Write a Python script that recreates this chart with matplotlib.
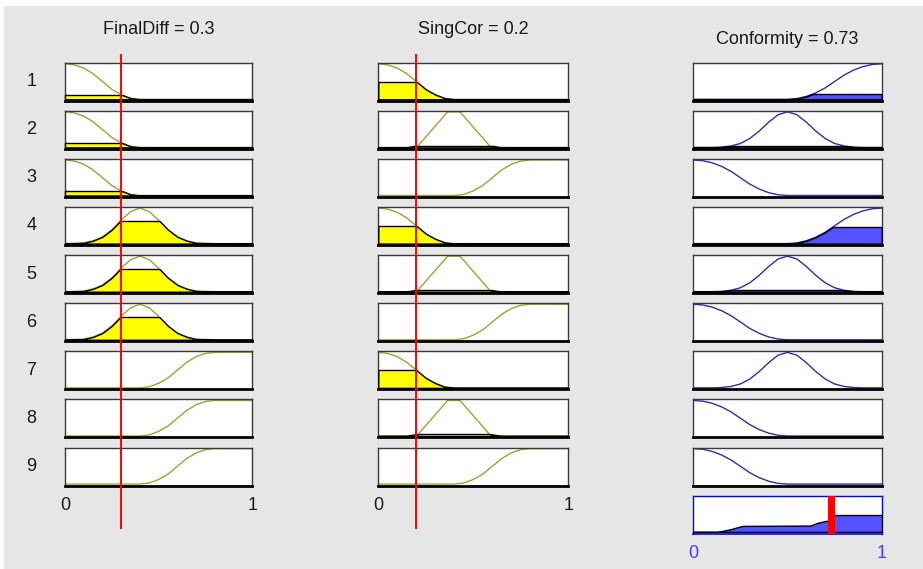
import numpy as np
import matplotlib
matplotlib.use('Agg')
import matplotlib.pyplot as plt
from matplotlib.patches import Rectangle

input_names = ['FinalDiff', 'SingCor']
input_values = [0.3, 0.2]
output_name = 'Conformity'
output_value = 0.73
row_labels = ['1', '2', '3', '4', '5', '6', '7', '8', '9']

# membership curves sampled every 0.05
grid_x = np.linspace(0, 1, 21)
in_low = [1.00, 0.97, 0.88, 0.72, 0.50, 0.28, 0.13, 0.03, 0.00, 0, 0,
          0, 0, 0, 0, 0, 0, 0, 0, 0, 0]
fd_med = [0, 0.01, 0.02, 0.08, 0.19, 0.39, 0.66, 0.90, 1.00, 0.90, 0.66,
          0.39, 0.19, 0.08, 0.02, 0.01, 0, 0, 0, 0, 0]
in_high = [0, 0, 0, 0, 0, 0, 0, 0, 0.00, 0.03, 0.13,
           0.28, 0.50, 0.72, 0.88, 0.97, 1.00, 1, 1, 1, 1]
sc_med_x = [0, 0.15, 0.21, 0.365, 0.43, 0.585, 0.645, 1]
sc_med = [0, 0, 0.05, 1.00, 1.00, 0.05, 0, 0]
out_low = [1.00, 0.98, 0.92, 0.82, 0.68, 0.50, 0.32, 0.18, 0.08, 0.02, 0,
           0, 0, 0, 0, 0, 0, 0, 0, 0, 0]
out_med = [0, 0, 0, 0.01, 0.04, 0.11, 0.25, 0.46, 0.71, 0.92, 1.00,
           0.92, 0.71, 0.46, 0.25, 0.11, 0.04, 0.01, 0, 0, 0]
out_high = [0, 0, 0, 0, 0, 0, 0, 0, 0, 0, 0.00,
            0.02, 0.08, 0.18, 0.32, 0.50, 0.68, 0.82, 0.92, 0.98, 1.00]

# which term each rule uses
fd_terms = ['low', 'low', 'low', 'med', 'med', 'med', 'high', 'high', 'high']
sc_terms = ['low', 'med', 'high', 'low', 'med', 'high', 'low', 'med', 'high']
out_terms = ['high', 'med', 'low', 'high', 'med', 'low', 'med', 'low', 'low']

# fill heights shown in each row
fd_levels = [0.13, 0.13, 0.13, 0.63, 0.63, 0.63, 0, 0, 0]
sc_levels = [0.50, 0.05, 0, 0.50, 0.05, 0, 0.50, 0.05, 0]
out_levels = [0.14, 0.05, 0, 0.48, 0.05, 0, 0, 0, 0]

# aggregated output
agg_x = [0.00, 0.13, 0.20, 0.26, 0.62, 0.66, 0.70, 0.73, 0.73, 1.00]
agg_y = [0.00, 0.00, 0.08, 0.17, 0.18, 0.26, 0.31, 0.33, 0.48, 0.48]

fd_mfs = {'low': (grid_x, in_low), 'med': (grid_x, fd_med), 'high': (grid_x, in_high)}
sc_mfs = {'low': (grid_x, in_low), 'med': (sc_med_x, sc_med), 'high': (grid_x, in_high)}
out_mfs = {'low': (grid_x, out_low), 'med': (grid_x, out_med), 'high': (grid_x, out_high)}

# --- layout (pixels of the 923x569 picture) ---
W, H = 923, 569
BG = '#e6e6e6'
YELLOW = '#ffff00'
OLIVE = '#a0a038'
BLUE_FILL = '#5252ff'
BLUE_LINE = '#2e2ea6'
TXT = '#1a1a1a'
plt.rcParams['font.family'] = ['Liberation Sans', 'DejaVu Sans']
FS = 13

cols = [(65, 252.3), (378.3, 568.3), (693.3, 881.7)]
row_top0, row_step, row_h = 62.7, 48.1, 38
agg_box = (693.3, 495.7, 882, 534)
red_top, red_bot = 54, 529


def px_box(x0, y0, x1, y1):
    return [x0 / W, 1 - y1 / H, (x1 - x0) / W, (y1 - y0) / H]


def draw_mf(ax, xs, ys, level, line_color, fill_color):
    ax.plot(xs, ys, color=line_color, lw=1.0, zorder=2)
    if level > 0:
        fb = ax.fill_between(xs, 0, ys, facecolor=fill_color, edgecolor='black',
                             lw=1.0, zorder=3)
        fb.set_clip_path(Rectangle((-0.1, -1), 1.2, level + 1, transform=ax.transData))
        top, = ax.plot([0, 1], [level, level], color='black', lw=1.0, zorder=4)
        top.set_clip_path(fb.get_paths()[0], ax.transData)


def style_panel(ax, edge='#3a3a3a', bottom='black'):
    ax.set_xlim(0, 1)
    ax.set_ylim(-0.04, 1.03)
    ax.set_facecolor('white')
    ax.set_yticks([])
    ax.set_xticks([])
    for side in ['left', 'right', 'top']:
        ax.spines[side].set_color(edge)
        ax.spines[side].set_linewidth(1.0)
    ax.spines['bottom'].set_color(bottom)
    ax.spines['bottom'].set_linewidth(2.0)


fig = plt.figure(figsize=(W / 100, H / 100), dpi=100)
fig.patch.set_facecolor('white')
fig.patches.append(Rectangle((4 / W, 0), 1, 1 - 6 / H, transform=fig.transFigure,
                             facecolor=BG, edgecolor='none', zorder=-10))

col_specs = [(fd_mfs, fd_terms, fd_levels, OLIVE, YELLOW),
             (sc_mfs, sc_terms, sc_levels, OLIVE, YELLOW),
             (out_mfs, out_terms, out_levels, BLUE_LINE, BLUE_FILL)]

for c, (mfs, terms, levels, lc, fc) in enumerate(col_specs):
    x0, x1 = cols[c]
    for r in range(9):
        top = row_top0 + r * row_step
        ax = fig.add_axes(px_box(x0, top, x1, top + row_h))
        style_panel(ax)
        xs, ys = mfs[terms[r]]
        draw_mf(ax, xs, ys, levels[r], lc, fc)
        if c == 0:
            ax.text(-0.18, 0.5, row_labels[r], transform=ax.transAxes,
                    ha='center', va='center', fontsize=FS, color=TXT)
        if r == 0:
            if c < 2:
                title = f'{input_names[c]} = {input_values[c]:g}'
                ty = 1 + (top - 29) / row_h
            else:
                title = f'{output_name} = {output_value:g}'
                ty = 1 + (top - 39) / row_h
            ax.text(0.5, ty, title, transform=ax.transAxes, ha='center',
                    va='center', fontsize=FS, color=TXT)
        if r == 8 and c < 2:
            ax.set_xticks([0, 1])
            ax.set_xticklabels(['0', '1'], fontsize=FS, color=TXT)
            ax.tick_params(axis='x', length=0, pad=8)

    if c < 2:
        ov = fig.add_axes(px_box(x0, red_top, x1, red_bot), zorder=5)
        ov.set_xlim(0, 1)
        ov.set_ylim(0, 1)
        ov.axis('off')
        ov.axvline(input_values[c], color='#ff0000', lw=1.4)

# aggregated output panel
ax = fig.add_axes(px_box(*agg_box))
style_panel(ax, edge='#0000ff', bottom='#0000ff')
ax.spines['bottom'].set_linewidth(1.2)
ax.set_ylim(-0.06, 1.03)
ax.fill_between(agg_x, 0, agg_y, facecolor=BLUE_FILL, edgecolor='black', lw=1.0, zorder=3)
ax.axvline(output_value, color='#ff0000', lw=5, zorder=5)
ax.set_xticks([0, 1])
ax.set_xticklabels(['0', '1'], fontsize=FS, color='#4a3cff')
ax.tick_params(axis='x', length=0, pad=8)

fig.savefig('out.png', dpi=100, facecolor=fig.get_facecolor())
